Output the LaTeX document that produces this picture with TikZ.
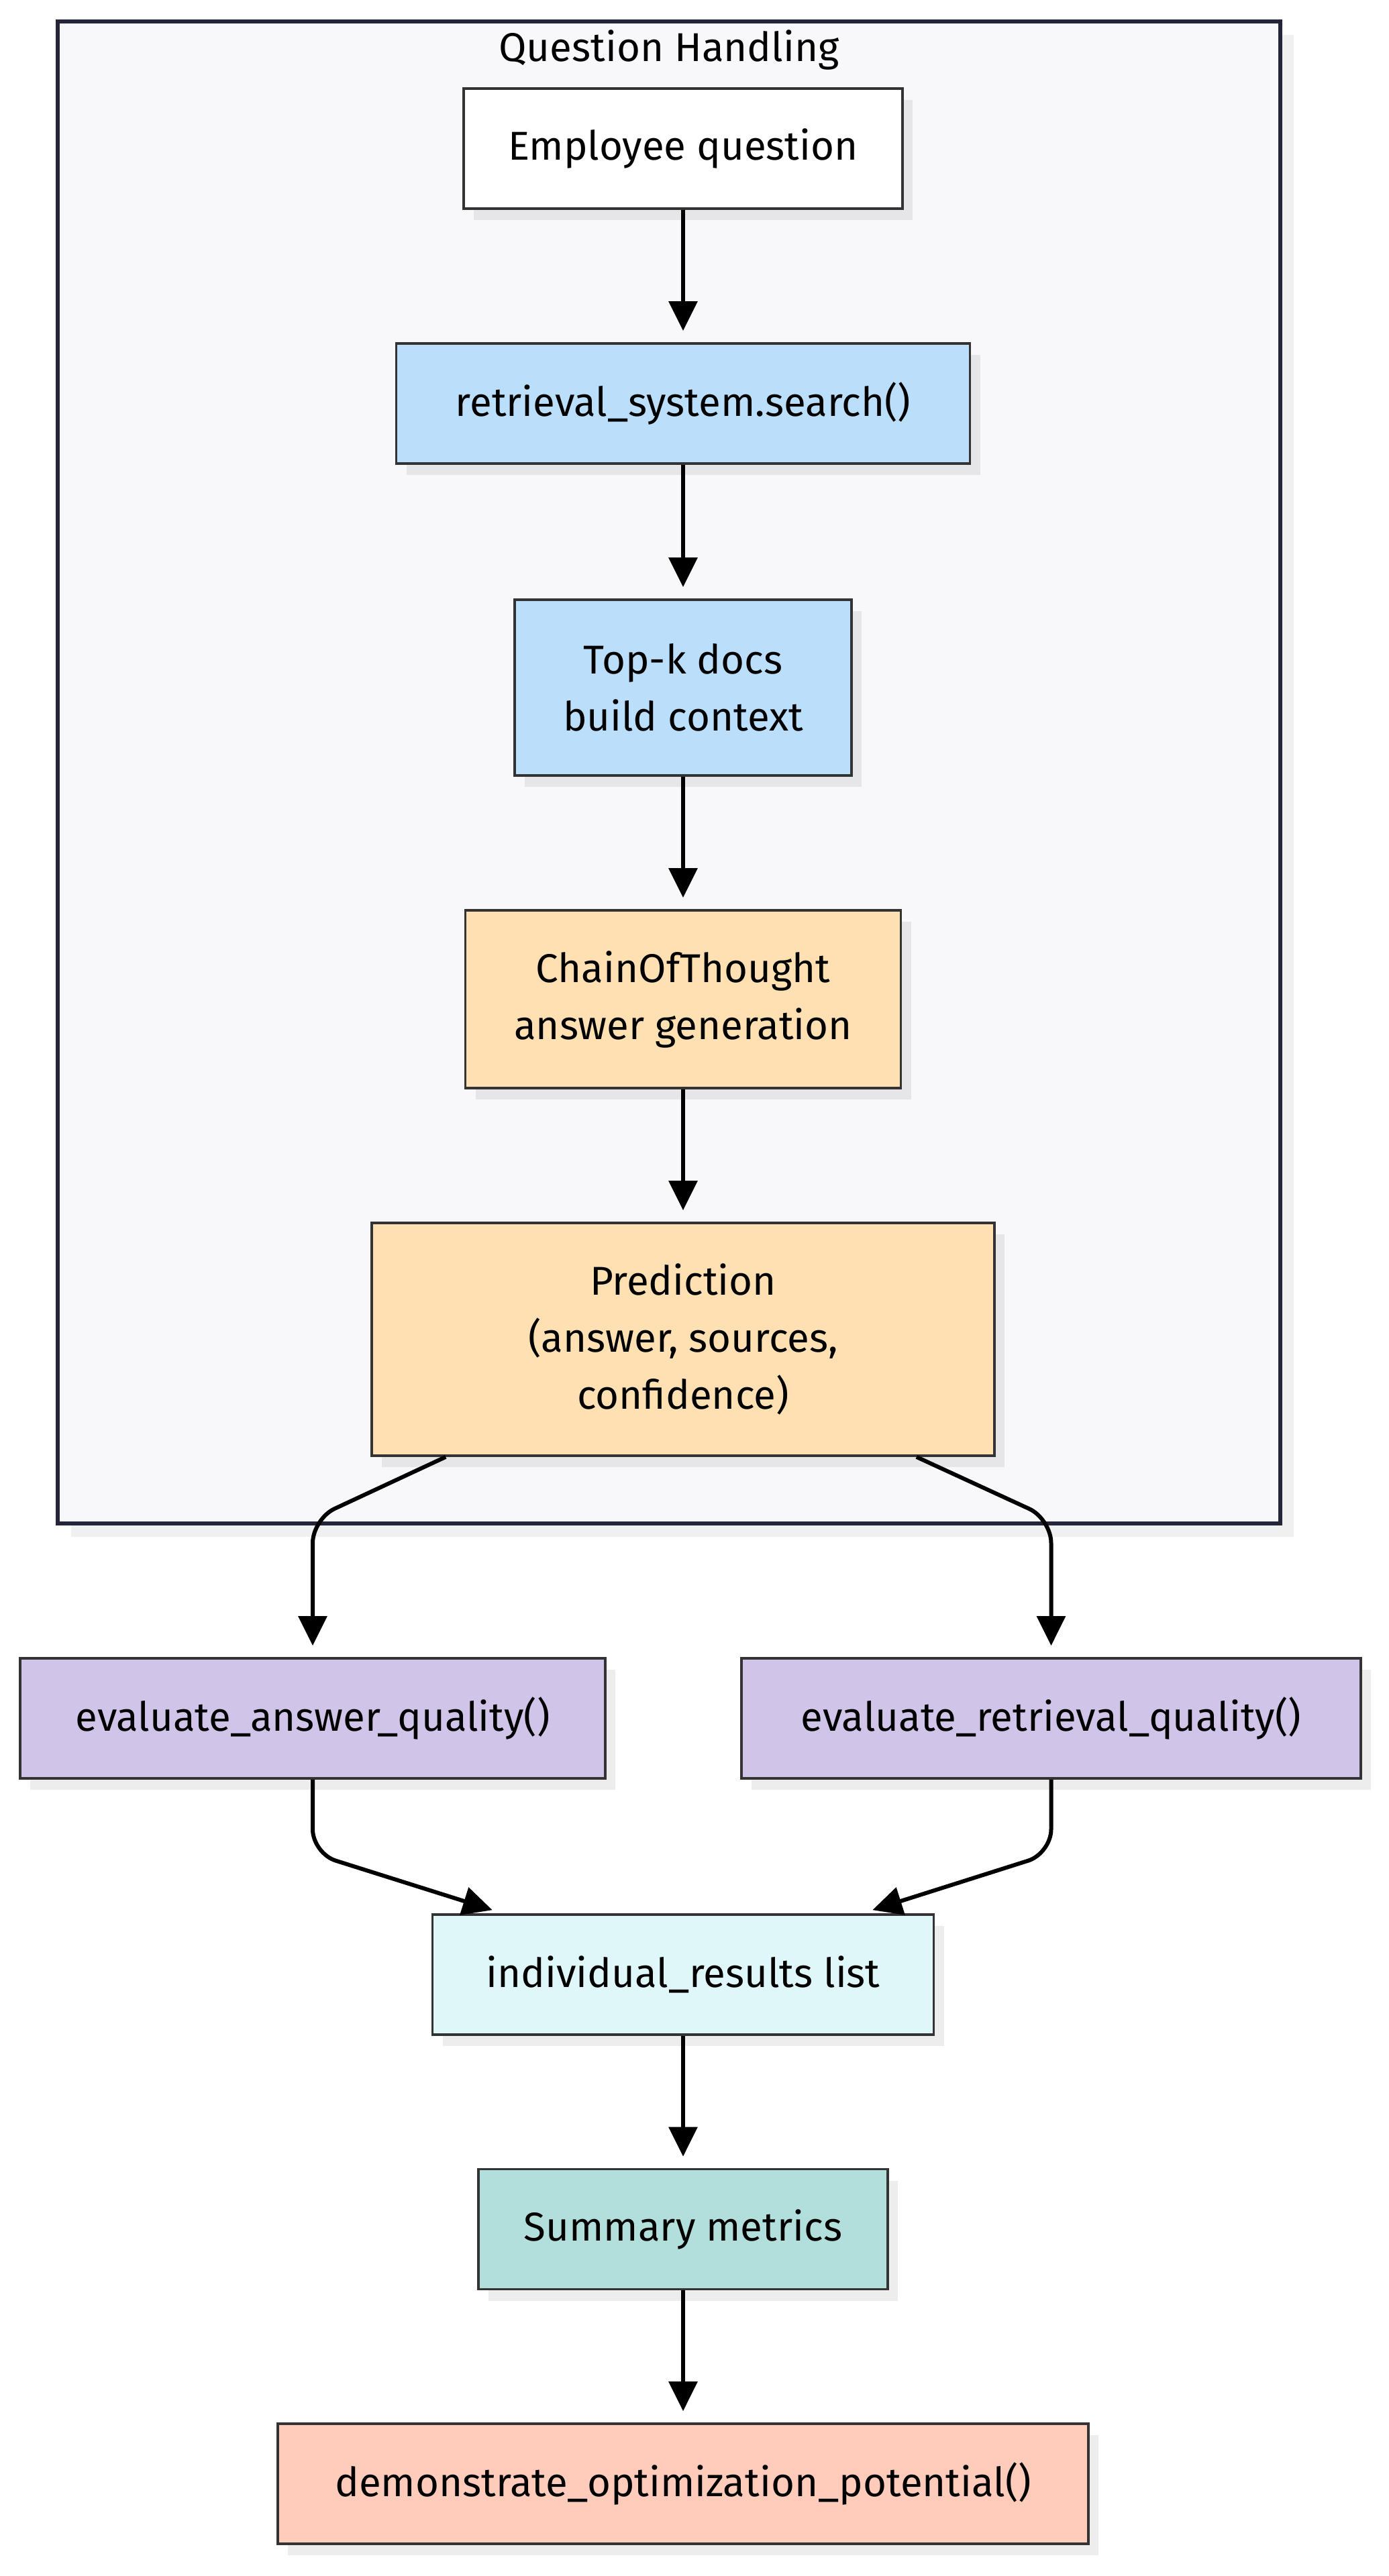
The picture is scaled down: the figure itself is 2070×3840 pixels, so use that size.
\documentclass[tikz,border=0pt]{standalone}
\usepackage{fontspec}
\setmainfont{Fira Sans}
\usetikzlibrary{arrows.meta,calc,shadows}
\definecolor{boxline}{HTML}{333333}
\definecolor{clline}{HTML}{25253A}
\definecolor{clfill}{HTML}{F8F8FB}
\definecolor{cblue}{HTML}{BBDEFB}
\definecolor{corange}{HTML}{FFE0B2}
\definecolor{cpurple}{HTML}{D1C4E9}
\definecolor{ccyan}{HTML}{E0F7FA}
\definecolor{cteal}{HTML}{B2DFDB}
\definecolor{csalmon}{HTML}{FFCCBC}
\begin{document}
\begin{tikzpicture}[x=0.5pt,y=-0.5pt,
  txt/.style={font=\fontsize{30}{42.5}\selectfont},
  box/.style={txt, draw=boxline, line width=1.8pt, rectangle, inner sep=0pt, align=center,
    minimum height=89.5pt,
    drop shadow={shadow xshift=7.5pt, shadow yshift=-8.5pt, fill=black, opacity=0.07}},
  cluster/.style={draw=clline, fill=clfill, line width=2.8pt, rectangle, inner sep=0pt,
    drop shadow={shadow xshift=10pt, shadow yshift=-10pt, fill=black, opacity=0.06}},
  arr/.style={line width=3pt, -{Triangle[length=22pt,width=21pt]}},
]
\useasboundingbox[fill=white] (0,0) rectangle (2070,3840);

\node[cluster, minimum width=911pt, minimum height=1119.5pt] (qh) at (997,1151.5) {};
\node[txt, anchor=base] (qht) at (997,91) {Question Handling};

\node[box, fill=white, minimum width=327pt] (emp) at (1018,221.5) {Employee question};
\node[box, fill=cblue, minimum width=427.5pt] (ret) at (1018,601.5) {retrieval\_system.search()};
\node[box, fill=cblue, minimum width=251pt, minimum height=131pt] (topk) at (1018,1025) {Top-k docs\\build context};
\node[box, fill=corange, minimum width=324.5pt, minimum height=132.5pt] (cot) at (1018,1489.5) {ChainOfThought\\answer generation};
\node[box, fill=corange, minimum width=464pt, minimum height=173.5pt] (pred) at (1018,1996.5) {Prediction\\(answer, sources,\\confidence)};

\node[box, fill=cpurple, minimum width=436pt] (eaq) at (466,2561.5) {evaluate\_answer\_quality()};
\node[box, fill=cpurple, minimum width=461.5pt] (erq) at (1566.5,2561.5) {evaluate\_retrieval\_quality()};
\node[box, fill=ccyan, minimum width=373.5pt] (ind) at (1018,2943.5) {individual\_results list};
\node[box, fill=cteal, minimum width=305pt] (sum) at (1018,3323) {Summary metrics};
\node[box, fill=csalmon, minimum width=604pt] (demo) at (1018,3702.5) {demonstrate\_optimization\_potential()};

\draw[arr, shorten >=8.5pt] (emp.south) -- (ret.north);
\draw[arr, shorten >=8.5pt] (ret.south) -- (topk.north);
\draw[arr, shorten >=8.5pt] (topk.south) -- (cot.north);
\draw[arr, shorten >=8.5pt] (cot.south) -- (pred.north);

\coordinate (lc) at ($(eaq.north)+(0,-206)$);
\coordinate (rc) at ($(erq.north)+(0,-206)$);
\draw[arr, rounded corners=18pt] ($(pred.south west)+(112,0)$) -- (lc) -- ([yshift=8.5pt]eaq.north);
\draw[arr, rounded corners=18pt] ($(pred.south east)+(-118,0)$) -- (rc) -- ([yshift=8.5pt]erq.north);

\coordinate (lb) at ($(eaq.south)+(0,110)$);
\coordinate (rb) at ($(erq.south)+(0,110)$);
\coordinate (lt) at ($(ind.north west)+(91,-5)$);
\coordinate (rt) at ($(ind.north east)+(-93,-5)$);
\draw[arr, rounded corners=18pt] (eaq.south) -- (lb) -- (lt);
\draw[arr, rounded corners=18pt] (erq.south) -- (rb) -- (rt);

\draw[arr, shorten >=8.5pt] (ind.south) -- (sum.north);
\draw[arr, shorten >=8.5pt] (sum.south) -- (demo.north);
\end{tikzpicture}
\end{document}
